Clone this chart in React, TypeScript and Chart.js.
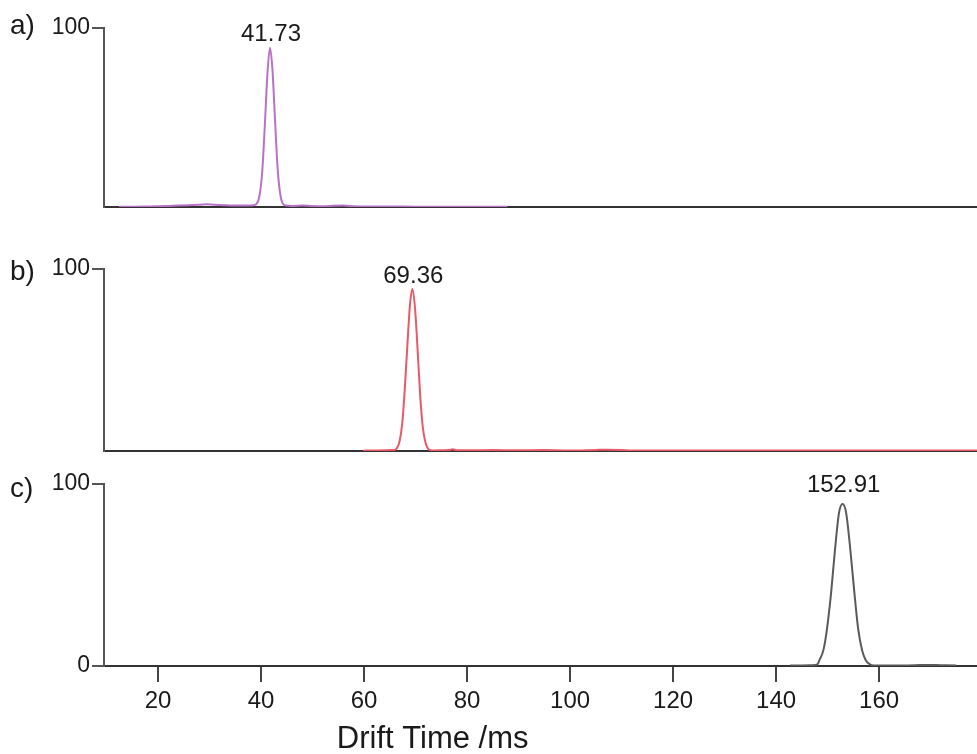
import React, { useEffect, useRef } from "react";
import { Chart, registerables } from "chart.js";

Chart.register(...registerables);

// ---------- data ----------
const PANEL_LABELS = ["a)", "b)", "c)"];
const PEAK_LABELS = ["41.73", "69.36", "152.91"];
const PEAK_X = [41.73, 69.36, 152.91];
const PEAK_Y = [89, 89, 89];
const X_TICKS = [20, 40, 60, 80, 100, 120, 140, 160];
const Y_TICKS_UPPER = [100];
const Y_TICKS_LOWER = [0, 100];
const X_TITLE = "Drift Time /ms";
const X_MIN = 9.5;
const X_MAX = 179;

const XA = [12.4, 15, 18, 20, 22, 24, 26, 28, 29.5, 31, 33, 35, 37, 38.5, 39.2, 39.7, 40.2, 40.7, 41.2, 41.73, 42.2, 42.7, 43.2, 43.7, 44.2, 44.8, 46, 48, 50, 52, 54, 56, 58, 60, 65, 70, 75, 80, 85, 87.8];
const YA = [0.2, 0.2, 0.3, 0.4, 0.6, 0.8, 1.0, 1.2, 1.5, 1.2, 1.0, 0.9, 0.9, 1.0, 2.0, 6.5, 19, 44, 73, 89, 77, 49, 22, 7.5, 2.0, 0.8, 0.6, 0.8, 0.5, 0.4, 0.7, 0.8, 0.4, 0.3, 0.3, 0.2, 0.2, 0.2, 0.2, 0.2];

const XB = [59.8, 62, 64, 65, 65.9, 66.4, 66.9, 67.4, 67.9, 68.4, 68.9, 69.36, 69.9, 70.4, 70.9, 71.4, 71.9, 72.4, 72.9, 73.5, 75, 76.5, 77.2, 78, 80, 85, 90, 94.6, 100, 105, 107, 110, 112, 120, 130, 140, 150, 160, 170, 179];
const YB = [0.2, 0.3, 0.4, 0.5, 0.6, 1.6, 5.5, 15, 34, 58, 80, 89, 78, 55, 30, 13, 4.8, 1.4, 0.5, 0.3, 0.4, 0.5, 1.0, 0.4, 0.4, 0.5, 0.4, 0.5, 0.3, 0.6, 0.7, 0.6, 0.3, 0.3, 0.3, 0.3, 0.3, 0.3, 0.3, 0.3];

const XC = [142.7, 145, 147, 148, 148.4, 149.2, 149.9, 150.7, 151.4, 152.2, 152.91, 153.6, 154.4, 155.2, 155.9, 156.7, 157.4, 158.2, 159, 161, 164, 167, 169, 171, 173, 175];
const YC = [0.3, 0.3, 0.4, 0.8, 3.2, 9, 21, 41, 63, 84, 89, 84, 64, 40, 21, 8.5, 3.2, 0.9, 0.3, 0.3, 0.3, 0.4, 0.6, 0.5, 0.4, 0.3];

const SERIES_X = [XA, XB, XC];
const SERIES_Y = [YA, YB, YC];

// ---------- style ----------
const FONT = '"Liberation Sans", Arial, Helvetica, sans-serif';
const COLORS = ["#b872c8", "#e85a68", "#5a5a5a"];
const W = 977;

type PanelStyle = {
  top: number;
  height: number;
  padTop: number;
  xHeight: number;
  showX: boolean;
  labelOffset: number;
  peakGap: number;
};

const PANELS: PanelStyle[] = [
  { top: 0, height: 215, padTop: 28, xHeight: 8, showX: false, labelOffset: 6, peakGap: 7 },
  { top: 240, height: 220, padTop: 29, xHeight: 9, showX: false, labelOffset: 11, peakGap: 6 },
  { top: 455, height: 299, padTop: 29, xHeight: 88, showX: true, labelOffset: 13, peakGap: 12 },
];

function Panel({ idx }: { idx: number }) {
  const ref = useRef<HTMLCanvasElement | null>(null);
  const st = PANELS[idx];

  useEffect(() => {
    if (!ref.current) return;
    const textPlugin = {
      id: "panelText" + idx,
      afterDraw(chart: any) {
        const { ctx, chartArea, scales } = chart;
        ctx.save();
        ctx.fillStyle = "#1a1a1a";
        ctx.textBaseline = "alphabetic";
        ctx.font = `28px ${FONT}`;
        ctx.textAlign = "left";
        ctx.fillText(PANEL_LABELS[idx], 10, chartArea.top + st.labelOffset);
        ctx.font = `24px ${FONT}`;
        ctx.textAlign = "center";
        const px = scales.x.getPixelForValue(PEAK_X[idx]);
        const py = scales.y.getPixelForValue(PEAK_Y[idx]);
        ctx.fillText(PEAK_LABELS[idx], px + 1, py - st.peakGap);
        if (st.showX) {
          ctx.font = `31px ${FONT}`;
          const tx = chartArea.left + 0.3765 * (chartArea.right - chartArea.left);
          ctx.fillText(X_TITLE, tx, chart.height - 6);
        }
        ctx.restore();
      },
    };

    const data = SERIES_X[idx].map((x, i) => ({ x, y: SERIES_Y[idx][i] }));
    const chart = new Chart(ref.current, {
      type: "line",
      data: {
        datasets: [
          {
            data,
            borderColor: COLORS[idx],
            borderWidth: 2,
            pointRadius: 0,
            fill: false,
            tension: 0.4,
            cubicInterpolationMode: "monotone",
          },
        ],
      },
      options: {
        responsive: false,
        animation: false,
        maintainAspectRatio: false,
        layout: { padding: { top: st.padTop, left: 0, right: 0, bottom: 0 } },
        plugins: { legend: { display: false }, tooltip: { enabled: false }, title: { display: false } },
        scales: {
          x: {
            type: "linear",
            min: X_MIN,
            max: X_MAX,
            afterFit: (s: any) => {
              s.height = st.xHeight;
              s.paddingLeft = 0;
              s.paddingRight = 0;
            },
            afterBuildTicks: (s: any) => {
              s.ticks = X_TICKS.map((v) => ({ value: v }));
            },
            border: { display: true, color: "#333", width: 2 },
            grid: {
              display: st.showX,
              drawOnChartArea: false,
              drawTicks: true,
              tickLength: 16,
              color: "#444",
              lineWidth: 2,
            },
            ticks: {
              display: st.showX,
              color: "#1a1a1a",
              padding: 5,
              font: { family: FONT, size: 24 },
              maxRotation: 0,
              autoSkip: false,
            },
          },
          y: {
            type: "linear",
            min: 0,
            max: 100,
            afterFit: (s: any) => {
              s.width = 104;
              s.paddingBottom = 0;
              s.paddingTop = 0;
            },
            afterBuildTicks: (s: any) => {
              const t = idx === 2 ? Y_TICKS_LOWER : Y_TICKS_UPPER;
              s.ticks = t.map((v) => ({ value: v }));
            },
            border: { display: true, color: "#555", width: 2 },
            grid: {
              display: true,
              drawOnChartArea: false,
              drawTicks: true,
              tickLength: 12,
              color: "#555",
              lineWidth: 2,
            },
            ticks: {
              color: "#1a1a1a",
              padding: 2,
              font: { family: FONT, size: 23 },
              autoSkip: false,
            },
          },
        },
      },
      plugins: [textPlugin],
    } as any);
    return () => chart.destroy();
  }, [idx]);

  return (
    <canvas
      ref={ref}
      width={W}
      height={st.height}
      style={{ position: "absolute", left: 0, top: st.top, width: W, height: st.height }}
    />
  );
}

export default function App() {
  useEffect(() => {
    document.body.style.margin = "0";
    document.body.style.background = "#fff";
  }, []);
  return (
    <div style={{ position: "relative", width: W, height: 754, background: "#fff" }}>
      {PANELS.map((_, i) => (
        <Panel key={i} idx={i} />
      ))}
    </div>
  );
}
